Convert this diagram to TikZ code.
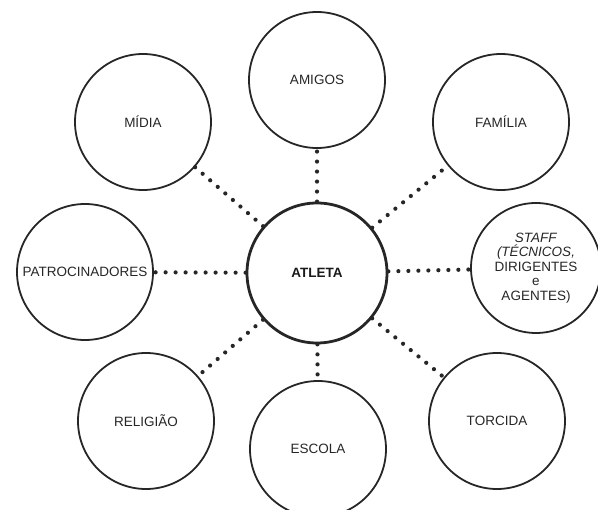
\documentclass[tikz,border=0pt]{standalone}
\usepackage{fontspec}
\setmainfont{Liberation Sans}

\begin{document}
\begin{tikzpicture}[x=1pt,y=-1pt,
  circ/.style={circle,draw=black!85,line width=1.8pt,minimum size=136pt,inner sep=0pt,
    align=center,text=black!85,font=\fontsize{13.5}{14.5}\selectfont},
  hub/.style={circ,line width=2.8pt,minimum size=140pt,text=black!90,
    font=\fontsize{13.5}{15}\selectfont\bfseries},
  link/.style={draw=black!85,line width=4.2pt,line cap=round,dash pattern=on 0pt off 10pt}]
  \useasboundingbox (0,0) rectangle (598,510);
  \node[hub] (atleta) at (317,273) {ATLETA};
  \node[circ] (amigos) at (317,80) {AMIGOS};
  \node[circ] (midia) at (143,122) {MÍDIA};
  \node[circ] (familia) at (501,122) {FAMÍLIA};
  \node[circ] (patroc) at (85,272) {PATROCINADORES};
  \node[circ,minimum size=130pt] (staff) at (536,268)
    {\textit{STAFF}\\\textit{(TÉCNICOS,}\\DIRIGENTES\\e\\AGENTES)};
  \node[circ] (religiao) at (146,421) {RELIGIÃO};
  \node[circ] (escola) at (318,449) {ESCOLA};
  \node[circ] (torcida) at (497,421) {TORCIDA};
  \foreach \n in {amigos,midia,familia,patroc,staff,religiao,escola,torcida}
    \draw[link] (atleta) -- (\n);
\end{tikzpicture}
\end{document}
